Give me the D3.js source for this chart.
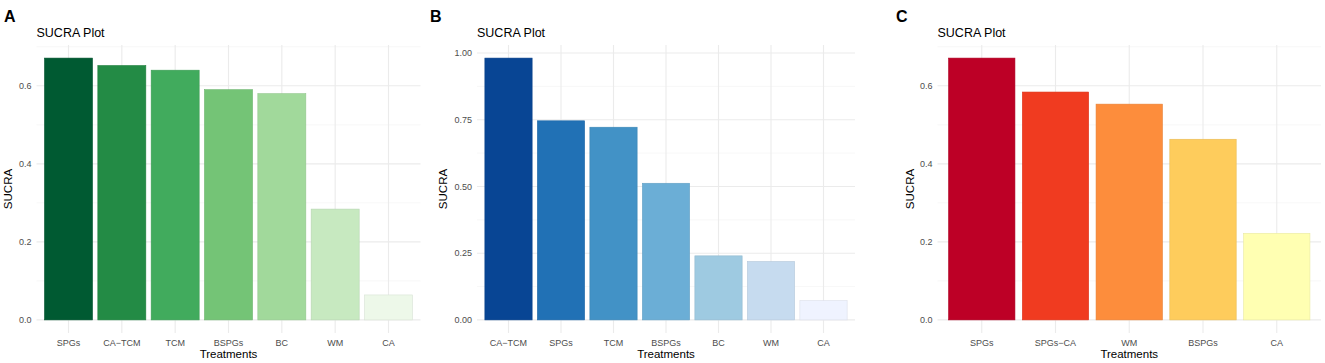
<!DOCTYPE html>
<html>
<head>
<meta charset="utf-8">
<script src="https://cdn.jsdelivr.net/npm/d3@7"></script>
<style>
  body { margin: 0; background: #fff; }
  svg { display: block; font-family: "Liberation Sans", Arial, sans-serif; }
</style>
</head>
<body>
<svg id="chart" width="1325" height="363"></svg>
<script>
// ---- Data ----
const catsA = ["SPGs", "CA\u2212TCM", "TCM", "BSPGs", "BC", "WM", "CA"];
const valsA = [0.671, 0.652, 0.640, 0.590, 0.580, 0.284, 0.064];
const colorsA = ["#005a32", "#238b45", "#41ab5d", "#74c476", "#a1d99b", "#c7e9c0", "#edf8e9"];
const ticksA = [0.0, 0.2, 0.4, 0.6];
const tickLabelsA = ["0.0", "0.2", "0.4", "0.6"];

const catsB = ["CA\u2212TCM", "SPGs", "TCM", "BSPGs", "BC", "WM", "CA"];
const valsB = [0.981, 0.746, 0.722, 0.512, 0.240, 0.219, 0.072];
const colorsB = ["#084594", "#2171b5", "#4292c6", "#6baed6", "#9ecae1", "#c6dbef", "#eff3ff"];
const ticksB = [0.0, 0.25, 0.5, 0.75, 1.0];
const tickLabelsB = ["0.00", "0.25", "0.50", "0.75", "1.00"];

const catsC = ["SPGs", "SPGs\u2212CA", "WM", "BSPGs", "CA"];
const valsC = [0.671, 0.584, 0.553, 0.463, 0.222];
const colorsC = ["#bd0026", "#f03b20", "#fd8d3c", "#fecc5c", "#ffffb2"];
const ticksC = [0.0, 0.2, 0.4, 0.6];
const tickLabelsC = ["0.0", "0.2", "0.4", "0.6"];

(function () {
const panels = [
  { letter: "A", cats: catsA, vals: valsA, colors: colorsA, ticks: ticksA, labels: tickLabelsA,
    letterX: 4, left: 36.5, right: 420.5, ytitleX: 8 },
  { letter: "B", cats: catsB, vals: valsB, colors: colorsB, ticks: ticksB, labels: tickLabelsB,
    letterX: 430, left: 477, right: 855, ytitleX: 443 },
  { letter: "C", cats: catsC, vals: valsC, colors: colorsC, ticks: ticksC, labels: tickLabelsC,
    letterX: 896, left: 937.5, right: 1321, ytitleX: 910 }
];

const svg = d3.select("#chart");
const pTop = 45, pBottom = 333;

panels.forEach(p => {
  const g = svg.append("g");
  const n = p.cats.length;
  const maxV = d3.max(p.vals);
  const y = d3.scaleLinear().domain([-0.05 * maxV, 1.05 * maxV]).range([pBottom, pTop]);
  const x = d3.scaleLinear().domain([0.4, n + 0.6]).range([p.left, p.right]);
  const step = x(2) - x(1);

  // minor grid
  const stepT = p.ticks[1] - p.ticks[0];
  const minor = [];
  for (let i = -1; i < p.ticks.length; i++) {
    const v = p.ticks[0] + (i + 0.5) * stepT;
    if (v >= y.domain()[0] && v <= y.domain()[1]) minor.push(v);
  }
  g.selectAll(".minor").data(minor).enter().append("line")
    .attr("x1", p.left).attr("x2", p.right)
    .attr("y1", d => y(d)).attr("y2", d => y(d))
    .attr("stroke", "#f2f2f2").attr("stroke-width", 0.6);
  // major grid y
  g.selectAll(".major").data(p.ticks).enter().append("line")
    .attr("x1", p.left).attr("x2", p.right)
    .attr("y1", d => y(d)).attr("y2", d => y(d))
    .attr("stroke", "#ebebeb").attr("stroke-width", 1.1);
  // major grid x
  g.selectAll(".vgrid").data(p.cats).enter().append("line")
    .attr("x1", (d, i) => x(i + 1)).attr("x2", (d, i) => x(i + 1))
    .attr("y1", pTop).attr("y2", pBottom)
    .attr("stroke", "#ebebeb").attr("stroke-width", 1.1);

  // bars
  g.selectAll(".bar").data(p.vals).enter().append("rect")
    .attr("x", (d, i) => x(i + 1) - 0.45 * step)
    .attr("width", 0.9 * step)
    .attr("y", d => y(d))
    .attr("height", d => y(0) - y(d))
    .attr("fill", (d, i) => p.colors[i])
    .attr("stroke", (d, i) => d3.color(p.colors[i]).darker(0.25))
    .attr("stroke-width", 0.6);

  // y tick labels
  g.selectAll(".ytl").data(p.ticks).enter().append("text")
    .attr("x", p.left - 5).attr("y", d => y(d))
    .attr("dy", "0.35em").attr("text-anchor", "end")
    .attr("font-size", 9).attr("fill", "#4d4d4d")
    .text((d, i) => p.labels[i]);

  // x tick labels
  g.selectAll(".xtl").data(p.cats).enter().append("text")
    .attr("x", (d, i) => x(i + 1)).attr("y", 346)
    .attr("text-anchor", "middle")
    .attr("font-size", 9).attr("fill", "#4d4d4d")
    .text(d => d);

  // axis titles
  g.append("text")
    .attr("x", (p.left + p.right) / 2).attr("y", 358)
    .attr("text-anchor", "middle").attr("font-size", 11.5).attr("fill", "#000")
    .text("Treatments");
  g.append("text")
    .attr("transform", `translate(${p.ytitleX + 4},${(pTop + pBottom) / 2}) rotate(-90)`)
    .attr("text-anchor", "middle").attr("font-size", 11.5).attr("fill", "#000")
    .text("SUCRA");

  // plot title
  g.append("text")
    .attr("x", p.left).attr("y", 37)
    .attr("font-size", 12.5).attr("fill", "#000")
    .text("SUCRA Plot");

  // panel letter
  g.append("text")
    .attr("x", p.letterX).attr("y", 21.5)
    .attr("font-size", 16).attr("font-weight", "bold").attr("fill", "#000")
    .text(p.letter);
});
})();
</script>
</body>
</html>
